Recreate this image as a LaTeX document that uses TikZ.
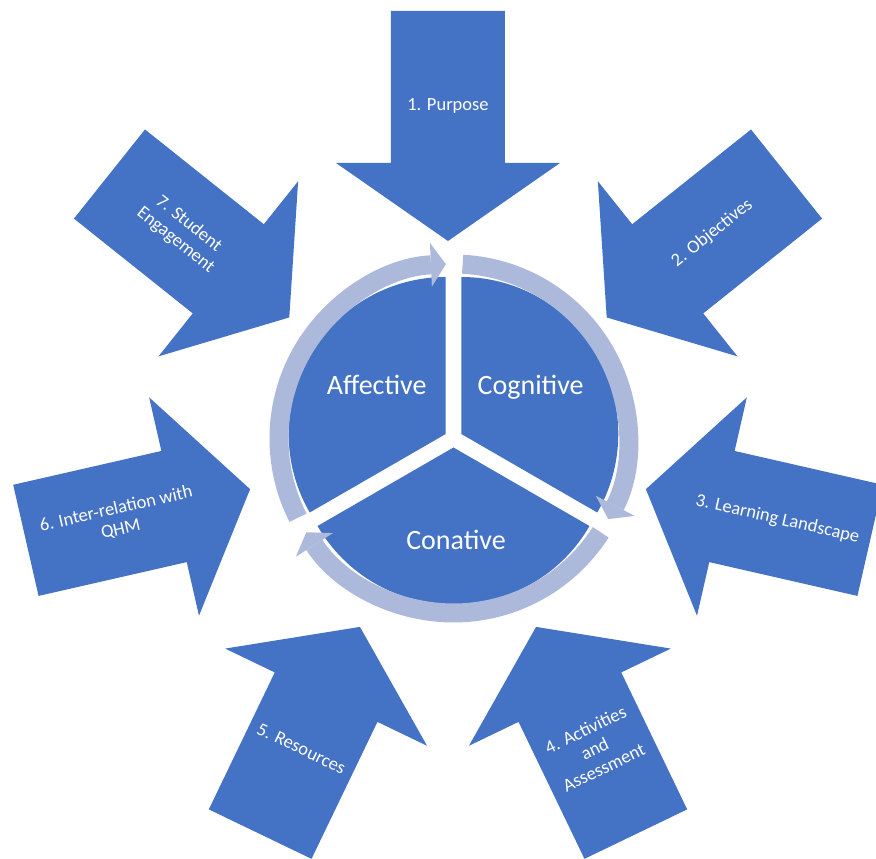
\documentclass[tikz,border=0pt]{standalone}
\usepackage{fontspec}
\setmainfont{Carlito}
\usetikzlibrary{arrows.meta}
\definecolor{segblue}{RGB}{68,114,196}
\definecolor{ringblue}{RGB}{173,185,219}

\begin{document}
\begin{tikzpicture}[x=1pt, y=1pt,
    inarrow/.style={fill=segblue},
    seg/.style={fill=segblue},
    ring/.style={draw=ringblue, line width=19pt,
      -{Triangle[length=15pt, width=44pt, line width=0pt]}},
    lbl/.style={text=white, align=center, inner sep=0pt,
      font=\fontsize{18.5}{21}\selectfont},
    seglbl/.style={text=white, anchor=base, inner sep=0pt,
      font=\fontsize{28}{34}\selectfont}]
  \useasboundingbox (-448,-415) rectangle (428,444);

  % outer arrows
  \foreach \a in {90,38.57,-12.86,-64.29,-115.71,-167.14,141.43}
    \fill[inarrow, rotate=\a] (203,0) -- (281,112) -- (281,57) -- (433,57)
      -- (433,-57) -- (281,-57) -- (281,-112) -- cycle;

  \node[lbl] (purpose) at (90:338) {1. Purpose};
  \node[lbl, rotate=38.57] (objectives) at (38.57:338) {2. Objectives};
  \node[lbl, rotate=-12.86] (landscape) at (-12.86:338) {3. Learning Landscape};
  \node[lbl, rotate=25.71] (activities) at (-64.29:338) {4. Activities\\and\\Assessment};
  \node[lbl, rotate=-25.71] (resources) at (-115.71:338) {5. Resources};
  \node[lbl, rotate=12.86] (interrel) at (-167.14:338) {6. Inter-relation with\\QHM};
  \node[lbl, rotate=-38.57] (engagement) at (141.43:340) {7. Student\\Engagement};

  % pie
  \fill[seg, shift={(30:9)}] (5.5,5.5) -- ++(90:157)
    arc[start angle=90, end angle=-30, radius=157] -- cycle;
  \fill[seg, shift={(270:9)}] (5.5,5.5) -- ++(-30:157)
    arc[start angle=-30, end angle=-150, radius=157] -- cycle;
  \fill[seg, shift={(150:9)}] (5.5,5.5) -- ++(210:157)
    arc[start angle=210, end angle=90, radius=157] -- cycle;

  \node[seglbl] (affective) at (-71.3,49) {Affective};
  \node[seglbl] (cognitive) at (82.7,49) {Cognitive};
  \node[seglbl] (conative) at (8,-106) {Conative};

  % cycle ring
  \draw[ring] (5.5,5.5) ++(207:174.5) arc[start angle=207, end angle=92.5, radius=174.5];
  \draw[ring] (5.5,5.5) ++(87:174.5) arc[start angle=87, end angle=-27.5, radius=174.5];
  \draw[ring] (5.5,5.5) ++(-32.5:174.5) arc[start angle=-32.5, end angle=-147.5, radius=174.5];
\end{tikzpicture}
\end{document}
